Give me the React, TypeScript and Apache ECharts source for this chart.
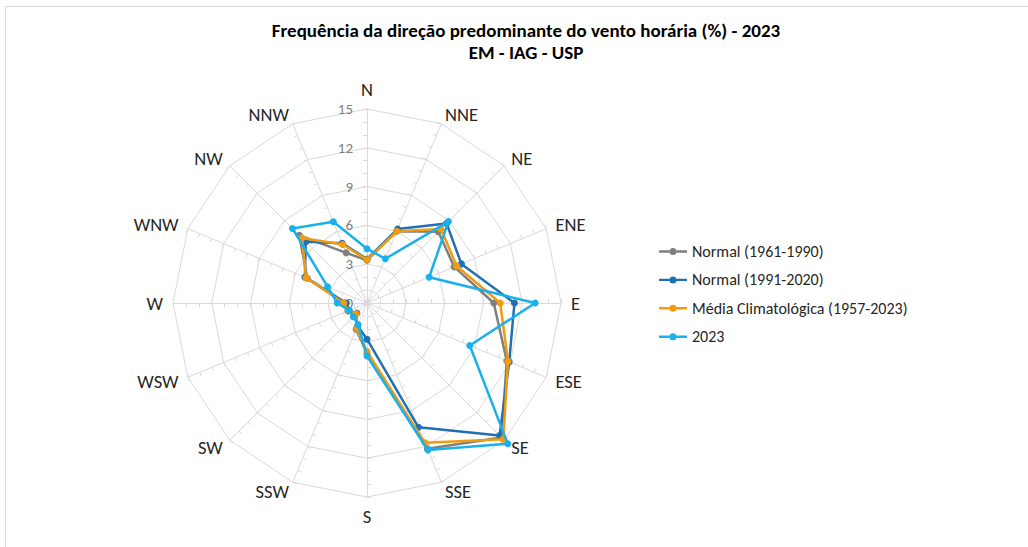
import React, { useEffect, useRef } from 'react';
import * as echarts from 'echarts';

const directions = ['N', 'NNE', 'NE', 'ENE', 'E', 'ESE', 'SE', 'SSE', 'S', 'SSW', 'SW', 'WSW', 'W', 'WNW', 'NW', 'NNW'];
const normal1961 = [3.3, 6.0, 7.8, 7.3, 9.8, 11.7, 14.7, 12.2, 3.9, 2.2, 1.1, 1.6, 1.7, 5.0, 7.4, 4.2];
const normal1991 = [3.4, 6.2, 8.7, 7.9, 11.4, 11.9, 14.5, 10.4, 2.8, 1.9, 1.3, 1.5, 1.6, 5.2, 6.7, 5.0];
const mediaClim = [3.35, 6.0, 8.1, 7.5, 10.3, 11.8, 14.9, 11.7, 3.75, 2.1, 1.2, 1.6, 1.8, 5.1, 7.1, 4.9];
const year2023 = [4.2, 3.7, 8.9, 5.2, 13.0, 8.6, 15.4, 12.3, 4.1, 1.8, 1.5, 1.5, 2.3, 3.3, 8.15, 6.8];
const seriesNames = ['Normal (1961-1990)', 'Normal (1991-2020)', 'Média Climatológica (1957-2023)', '2023'];
const seriesValues = [normal1961, normal1991, mediaClim, year2023];
const seriesColors = ['#7F7F7F', '#2170B4', '#F29B0F', '#1AB0EC'];
const radialMin = 0;
const radialMax = 15;
const radialSplits = 5;
const titleLines = ['Frequência da direção predominante do vento horária (%) - 2023', 'EM - IAG - USP'];

const FONT = 'Carlito, Lato, "Open Sans", sans-serif';
const GRID = '#D9D9D9';

// ECharts radar runs counter-clockwise; reorder so directions go clockwise.
const order = directions.map((_, i) => (i === 0 ? 0 : directions.length - i));

const legendIcon =
  'path://M0,0 L0,0 M0,5.8 L10.5,5.8 L10.5,8.2 L0,8.2 Z M17.5,5.8 L28,5.8 L28,8.2 L17.5,8.2 Z M10.5,7 A3.5,3.5 0 1,1 17.5,7 A3.5,3.5 0 1,1 10.5,7 Z M28,14 L28,14';

export default function App() {
  const ref = useRef<HTMLDivElement>(null);
  useEffect(() => {
    if (!ref.current) return;
    const chart = echarts.init(ref.current, undefined, { renderer: 'svg' });
    const option: any = {
      animation: false,
      backgroundColor: '#FFFFFF',
      title: {
        text: titleLines.join('\n'),
        left: 521,
        top: 14,
        textAlign: 'center',
        textStyle: { fontFamily: FONT, fontWeight: 'bold', fontSize: 19, lineHeight: 22, color: '#000000' },
      },
      legend: {
        orient: 'vertical',
        left: 654,
        top: 238.5,
        itemWidth: 28,
        itemHeight: 16,
        itemGap: 12.4,
        icon: legendIcon,
        data: seriesNames,
        textStyle: { fontFamily: FONT, fontSize: 16, color: '#262626' },
      },
      graphic: [
        {
          type: 'rect',
          shape: { x: 5.5, y: 6.5, width: 1100, height: 600 },
          style: { fill: 'none', stroke: GRID, lineWidth: 1 },
          silent: true,
        },
      ],
      radar: {
        center: [367, 303],
        radius: 194,
        startAngle: 90,
        shape: 'polygon',
        splitNumber: radialSplits,
        nameGap: 10,
        axisName: { color: '#262626', fontSize: 18.5, fontFamily: FONT },
        axisLine: { lineStyle: { color: GRID, width: 1 } },
        splitLine: { lineStyle: { color: GRID, width: 1 } },
        splitArea: { show: false },
        axisTick: { show: false },
        axisLabel: { show: false },
        indicator: order.map((idx) => ({
          name: directions[idx],
          min: radialMin,
          max: radialMax,
          axisTick: { show: true, length: 4, lineStyle: { color: GRID } },
          minorTick: { show: true, splitNumber: 3, length: 4, lineStyle: { color: GRID } },
          ...(idx === 0
            ? { axisLabel: { show: true, color: '#7F7F7F', fontSize: 15, fontFamily: FONT, margin: 14 } }
            : {}),
        })),
      },
      series: seriesNames.map((name, s) => ({
        type: 'radar',
        name,
        symbol: 'circle',
        symbolSize: 7,
        z: 2 + s,
        lineStyle: { color: seriesColors[s], width: 2.5 },
        itemStyle: { color: seriesColors[s] },
        data: [{ name, value: order.map((idx) => seriesValues[s][idx]) }],
      })),
    };
    chart.setOption(option);
    return () => chart.dispose();
  }, []);
  return <div ref={ref} style={{ position: 'fixed', left: 0, top: 0, width: 1028, height: 547 }} />;
}
